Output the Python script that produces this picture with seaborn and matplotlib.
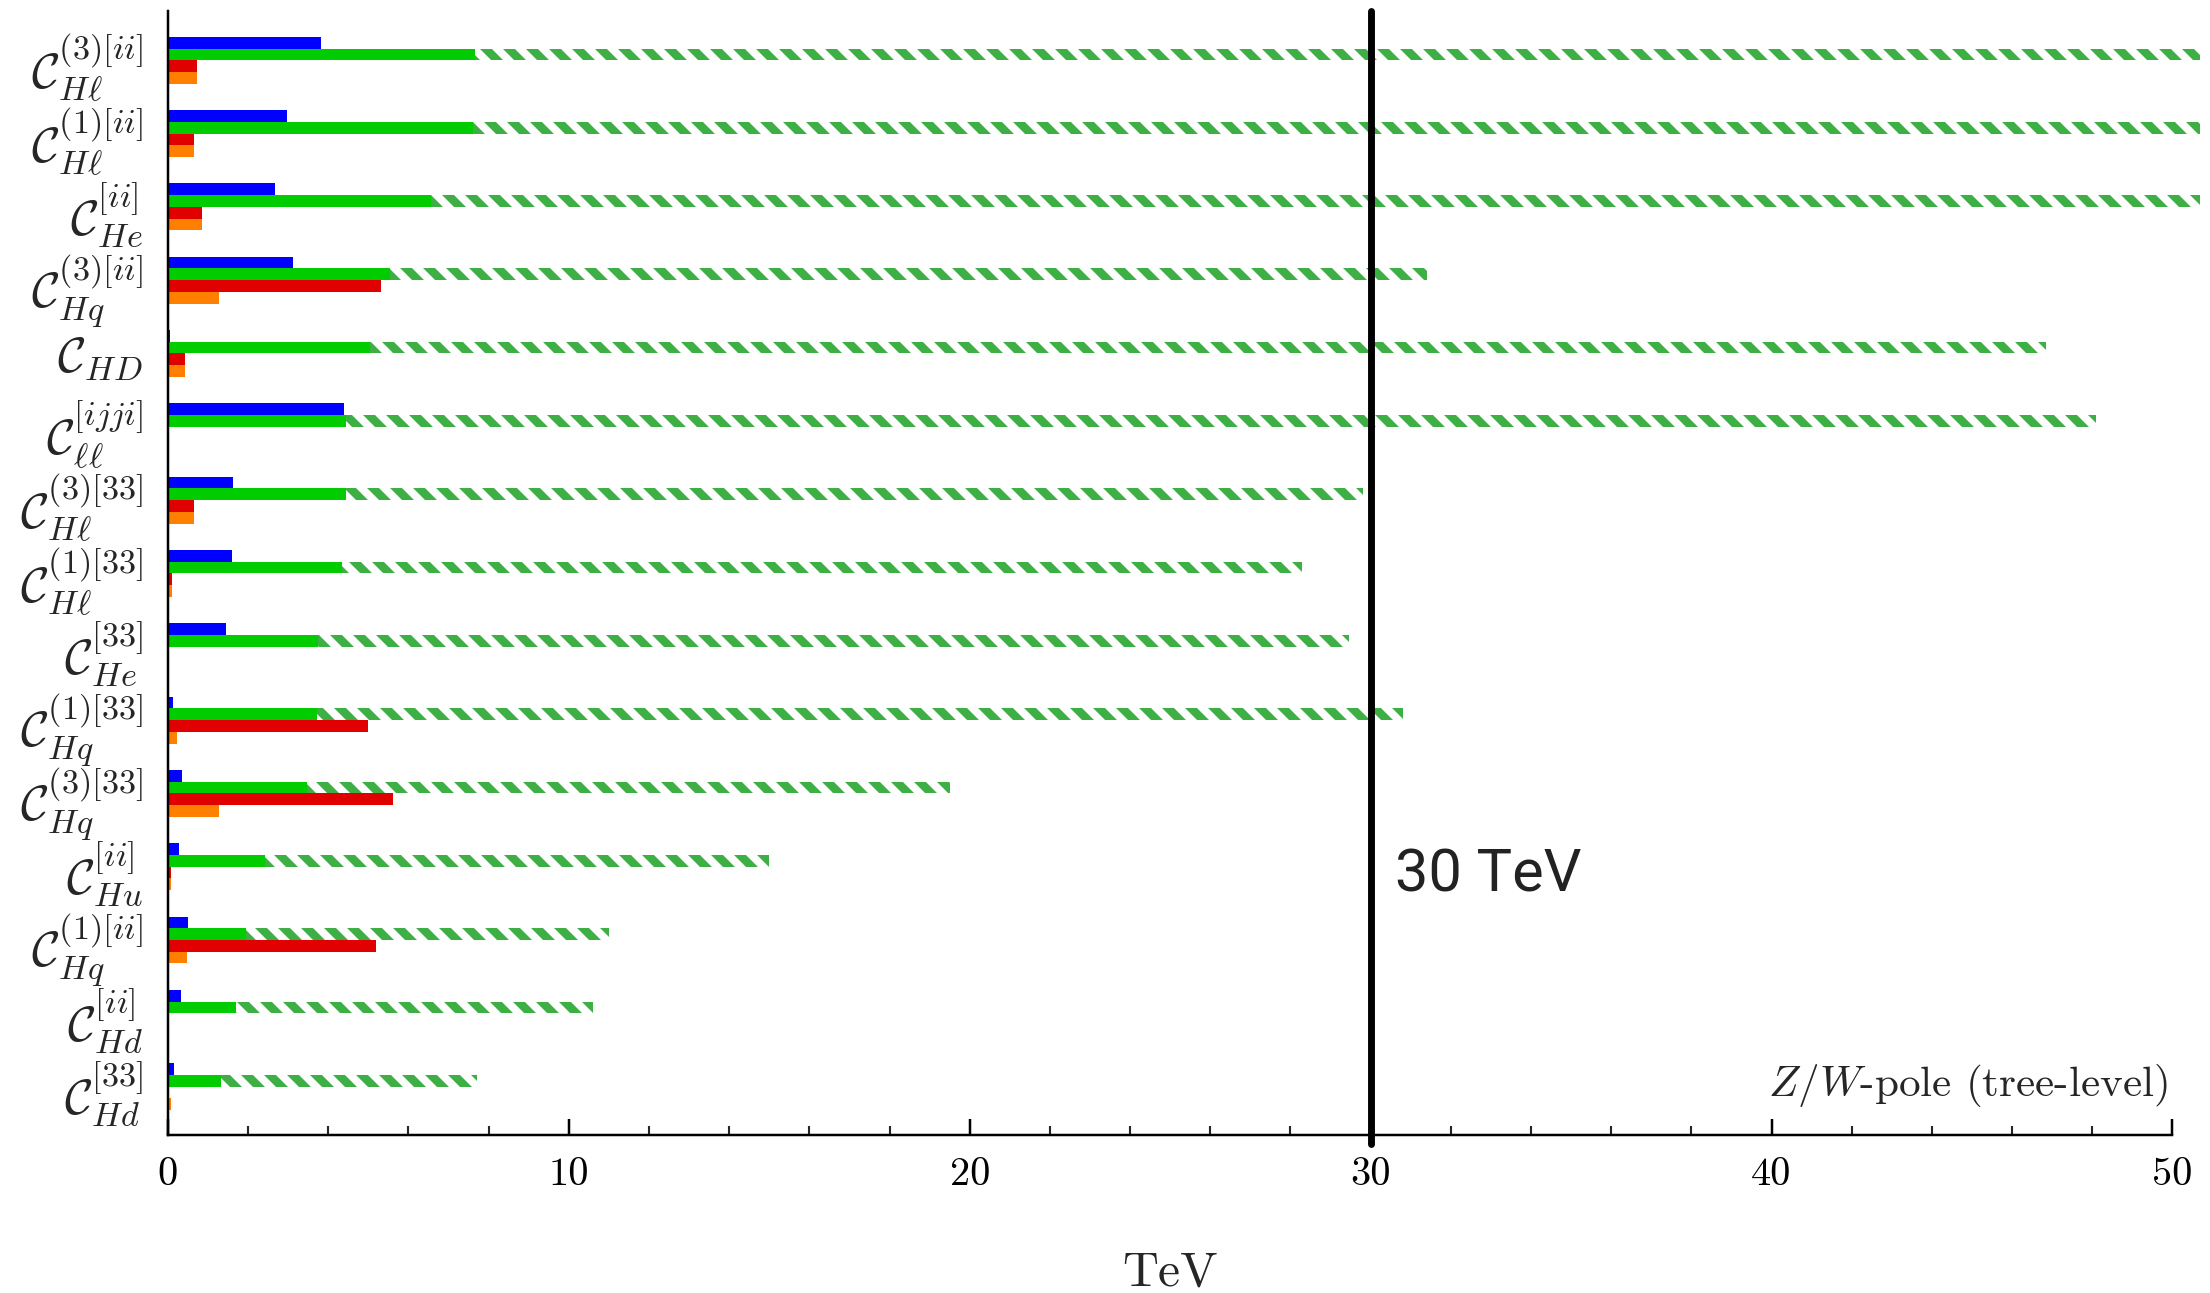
import numpy as np
import pandas as pd
import matplotlib
matplotlib.use("Agg")
import matplotlib.pyplot as plt
from matplotlib.ticker import MultipleLocator
import seaborn as sns

# ---------------- data ----------------
categories = [
    r"$\mathcal{C}_{H\ell}^{(3)[ii]}$",
    r"$\mathcal{C}_{H\ell}^{(1)[ii]}$",
    r"$\mathcal{C}_{He}^{[ii]}$",
    r"$\mathcal{C}_{Hq}^{(3)[ii]}$",
    r"$\mathcal{C}_{HD}$",
    r"$\mathcal{C}_{\ell\ell}^{[ijji]}$",
    r"$\mathcal{C}_{H\ell}^{(3)[33]}$",
    r"$\mathcal{C}_{H\ell}^{(1)[33]}$",
    r"$\mathcal{C}_{He}^{[33]}$",
    r"$\mathcal{C}_{Hq}^{(1)[33]}$",
    r"$\mathcal{C}_{Hq}^{(3)[33]}$",
    r"$\mathcal{C}_{Hu}^{[ii]}$",
    r"$\mathcal{C}_{Hq}^{(1)[ii]}$",
    r"$\mathcal{C}_{Hd}^{[ii]}$",
    r"$\mathcal{C}_{Hd}^{[33]}$",
]
blue_vals   = [3.81, 2.97, 2.67, 3.12, 0.05, 4.40, 1.63, 1.60, 1.44, 0.12, 0.36, 0.28, 0.49, 0.32, 0.16]
green_vals  = [7.65, 7.62, 6.57, 5.54, 5.03, 4.45, 4.45, 4.34, 3.74, 3.71, 3.48, 2.42, 1.94, 1.70, 1.33]
red_vals    = [0.72, 0.64, 0.86, 5.31, 0.42, 0.00, 0.64, 0.09, 0.00, 4.99, 5.62, 0.07, 5.20, 0.00, 0.03]
orange_vals = [0.73, 0.65, 0.86, 1.28, 0.43, 0.00, 0.65, 0.10, 0.00, 0.23, 1.27, 0.07, 0.48, 0.00, 0.08]
hatched_vals = [50.7, 50.7, 50.7, 31.4, 46.85, 48.1, 29.8, 28.3, 29.45, 30.8, 19.5, 15.0, 11.0, 10.6, 7.7]

series_order = ["blue", "green", "red", "orange"]
palette = {"blue": "#0000FF", "green": "#00CC00", "red": "#E00000", "orange": "#FF8000"}
hatch_color = "#3DAF45"

x_ticks = [0, 10, 20, 30, 40, 50]
x_label = "TeV"
line_label = "30 TeV"
note_text = r"$Z/W$-pole (tree-level)"

# ---------------- tables ----------------
rows, rows_h = [], []
for i, c in enumerate(categories):
    for s, vals in zip(series_order, [blue_vals, green_vals, red_vals, orange_vals]):
        rows.append({"coef": c, "series": s, "TeV": vals[i]})
        rows_h.append({"coef": c, "series": s, "TeV": hatched_vals[i] if s == "green" else 0.0})
df = pd.DataFrame(rows)
df_h = pd.DataFrame(rows_h)

# ---------------- style ----------------
sns.set_theme(style="white")
plt.rcParams["mathtext.fontset"] = "cm"
plt.rcParams["font.family"] = ["cmr10", "DejaVu Serif"]
plt.rcParams["axes.formatter.use_mathtext"] = True
plt.rcParams["hatch.linewidth"] = 4.4
plt.rcParams["hatch.color"] = hatch_color

DPI = 138.125
fig = plt.figure(figsize=(2210 / DPI, 1293 / DPI), dpi=DPI)
ax = fig.add_axes([0.076, 0.1225, 0.983 - 0.076, 0.9915 - 0.1225])

bar_w = 0.64
# hatched extension (drawn first, behind)
sns.barplot(data=df_h, x="TeV", y="coef", hue="series", hue_order=series_order,
            order=categories, orient="h", palette=palette, width=bar_w, dodge=True,
            errorbar=None, legend=False, linewidth=0, saturation=1, ax=ax)
for p in list(ax.patches):
    p.set_facecolor("none")
    p.set_edgecolor(hatch_color)
    p.set_hatch("\\\\")
    p.set_linewidth(0)
    p.set_clip_on(False)
    p.set_zorder(1)
n_h = len(ax.patches)

# solid bars
sns.barplot(data=df, x="TeV", y="coef", hue="series", hue_order=series_order,
            order=categories, orient="h", palette=palette, width=bar_w, dodge=True,
            errorbar=None, legend=False, linewidth=0, saturation=1, ax=ax)
for p in ax.patches[n_h:]:
    p.set_zorder(2)
    p.set_linewidth(0)

ax.axvline(30, ymin=-0.008, ymax=1, color="black", lw=3.6, zorder=5, clip_on=False)

ax.set_xlim(0, 50)
ax.set_ylim(len(categories) - 1 + 0.655, -0.672)
ax.set_xticks(x_ticks)
ax.set_xticklabels([str(t) for t in x_ticks])
ax.xaxis.set_minor_locator(MultipleLocator(2))
ax.tick_params(axis="x", which="major", direction="in", length=8.5, width=1.3,
               labelsize=21, pad=12, bottom=True, colors="black")
ax.tick_params(axis="x", which="minor", direction="in", length=4.5, width=1.1, bottom=True)
ax.tick_params(axis="y", length=0, labelsize=25.5, pad=13)
ax.set_ylabel("")
ax.set_xlabel(x_label, fontsize=26, labelpad=30)

for s in ["top", "right"]:
    ax.spines[s].set_visible(False)
for s in ["left", "bottom"]:
    ax.spines[s].set_color("black")
    ax.spines[s].set_linewidth(1.3)

ax.text(30.6, 11.12, line_label, fontsize=31, color="#222222", va="center", ha="left",
        family=["Roboto", "DejaVu Sans"], zorder=6)
ax.text(0.9975, 0.044, note_text, transform=ax.transAxes, fontsize=22.5,
        ha="right", va="center", zorder=6)

fig.savefig("out.png", dpi=DPI)
